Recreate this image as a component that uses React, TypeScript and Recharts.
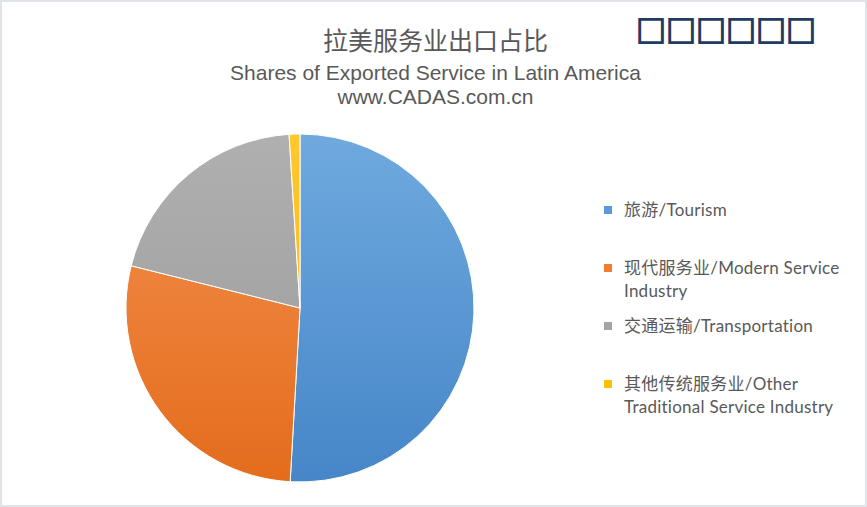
import React from "react";
import { PieChart, Pie, Cell, Legend } from "recharts";

// values (share of exported services, %)
const categories = [
  "旅游/Tourism",
  "现代服务业/Modern Service Industry",
  "交通运输/Transportation",
  "其他传统服务业/Other Traditional Service Industry",
];
const shares = [50.9, 28.0, 20.1, 1.0];

const titleCn = "拉美服务业出口占比";
const titleEn = "Shares of Exported Service in Latin America";
const titleUrl = "www.CADAS.com.cn";
const badgeText = "□□□□□□";

// [top colour, bottom colour] of each slice's gradient
const sliceColors = [
  ["#6fa9de", "#4686c8"],
  ["#f4914f", "#e46c1c"],
  ["#b0b0b0", "#999999"],
  ["#ffc82e", "#f3b300"],
];
const legendColors = ["#5b9bd5", "#ed7d31", "#a5a5a5", "#ffc000"];

const data = categories.map((name, i) => ({ name, value: shares[i] }));

const CX = 300;
const CY = 308;
const R = 174;

function LegendBox() {
  return (
    <div
      style={{
        fontFamily: "Lato, 'Noto Sans CJK SC', sans-serif",
        fontSize: 17,
        letterSpacing: 0.25,
        color: "#595959",
      }}
    >
      {categories.map((c, i) => (
        <div key={c} style={{ height: 58, display: "flex", alignItems: "flex-start" }}>
          <div
            style={{
              width: 8,
              height: 8,
              background: legendColors[i],
              marginTop: 8,
              marginRight: 12,
              flex: "none",
            }}
          />
          <div style={{ width: 240, lineHeight: "23px" }}>{c}</div>
        </div>
      ))}
    </div>
  );
}

export default function App() {
  return (
    <div
      style={{
        position: "fixed",
        left: 0,
        top: 0,
        width: 867,
        height: 507,
        boxSizing: "border-box",
        border: "2px solid #e0e3e8",
        background: "#ffffff",
        overflow: "hidden",
      }}
    >
      <div style={{ position: "absolute", left: -2, top: -2 }}>
        <PieChart width={867} height={507} margin={{ top: 0, right: 0, bottom: 0, left: 0 }}>
          <defs>
            {sliceColors.map((c, i) => (
              <linearGradient
                key={i}
                id={"slice" + i}
                gradientUnits="userSpaceOnUse"
                x1={0}
                y1={CY - R}
                x2={0}
                y2={CY + R}
              >
                <stop offset="0%" stopColor={c[0]} />
                <stop offset="100%" stopColor={c[1]} />
              </linearGradient>
            ))}
          </defs>
          <Pie
            data={data}
            dataKey="value"
            nameKey="name"
            cx={CX}
            cy={CY}
            outerRadius={R}
            startAngle={90}
            endAngle={-270}
            stroke="#ffffff"
            strokeWidth={1}
            isAnimationActive={false}
            label={false}
            labelLine={false}
          >
            {data.map((d, i) => (
              <Cell key={d.name} fill={`url(#slice${i})`} />
            ))}
          </Pie>
          <Legend
            layout="vertical"
            align="right"
            verticalAlign="top"
            content={() => <LegendBox />}
            wrapperStyle={{ left: 604, top: 198, width: 260 }}
          />
        </PieChart>
      </div>

      <div
        style={{
          position: "absolute",
          left: 0,
          top: 20,
          width: 867,
          textAlign: "center",
          fontFamily: "'Noto Sans CJK SC', sans-serif",
          fontSize: 25,
          lineHeight: "34px",
          color: "#595959",
        }}
      >
        {titleCn}
      </div>
      <div
        style={{
          position: "absolute",
          left: 0,
          top: 59,
          width: 867,
          textAlign: "center",
          fontFamily: "'Liberation Sans', Arial, sans-serif",
          fontSize: 21,
          lineHeight: "24px",
          color: "#595959",
        }}
      >
        <div>{titleEn}</div>
        <div>{titleUrl}</div>
      </div>
      <div
        style={{
          position: "absolute",
          left: 634,
          top: 7,
          fontFamily: "'Noto Sans CJK SC', sans-serif",
          fontSize: 30,
          lineHeight: "40px",
          color: "#1f3c64",
          fontWeight: 700,
          WebkitTextStroke: "1.5px #1f3c64",
          whiteSpace: "nowrap",
        }}
      >
        {badgeText}
      </div>
    </div>
  );
}
